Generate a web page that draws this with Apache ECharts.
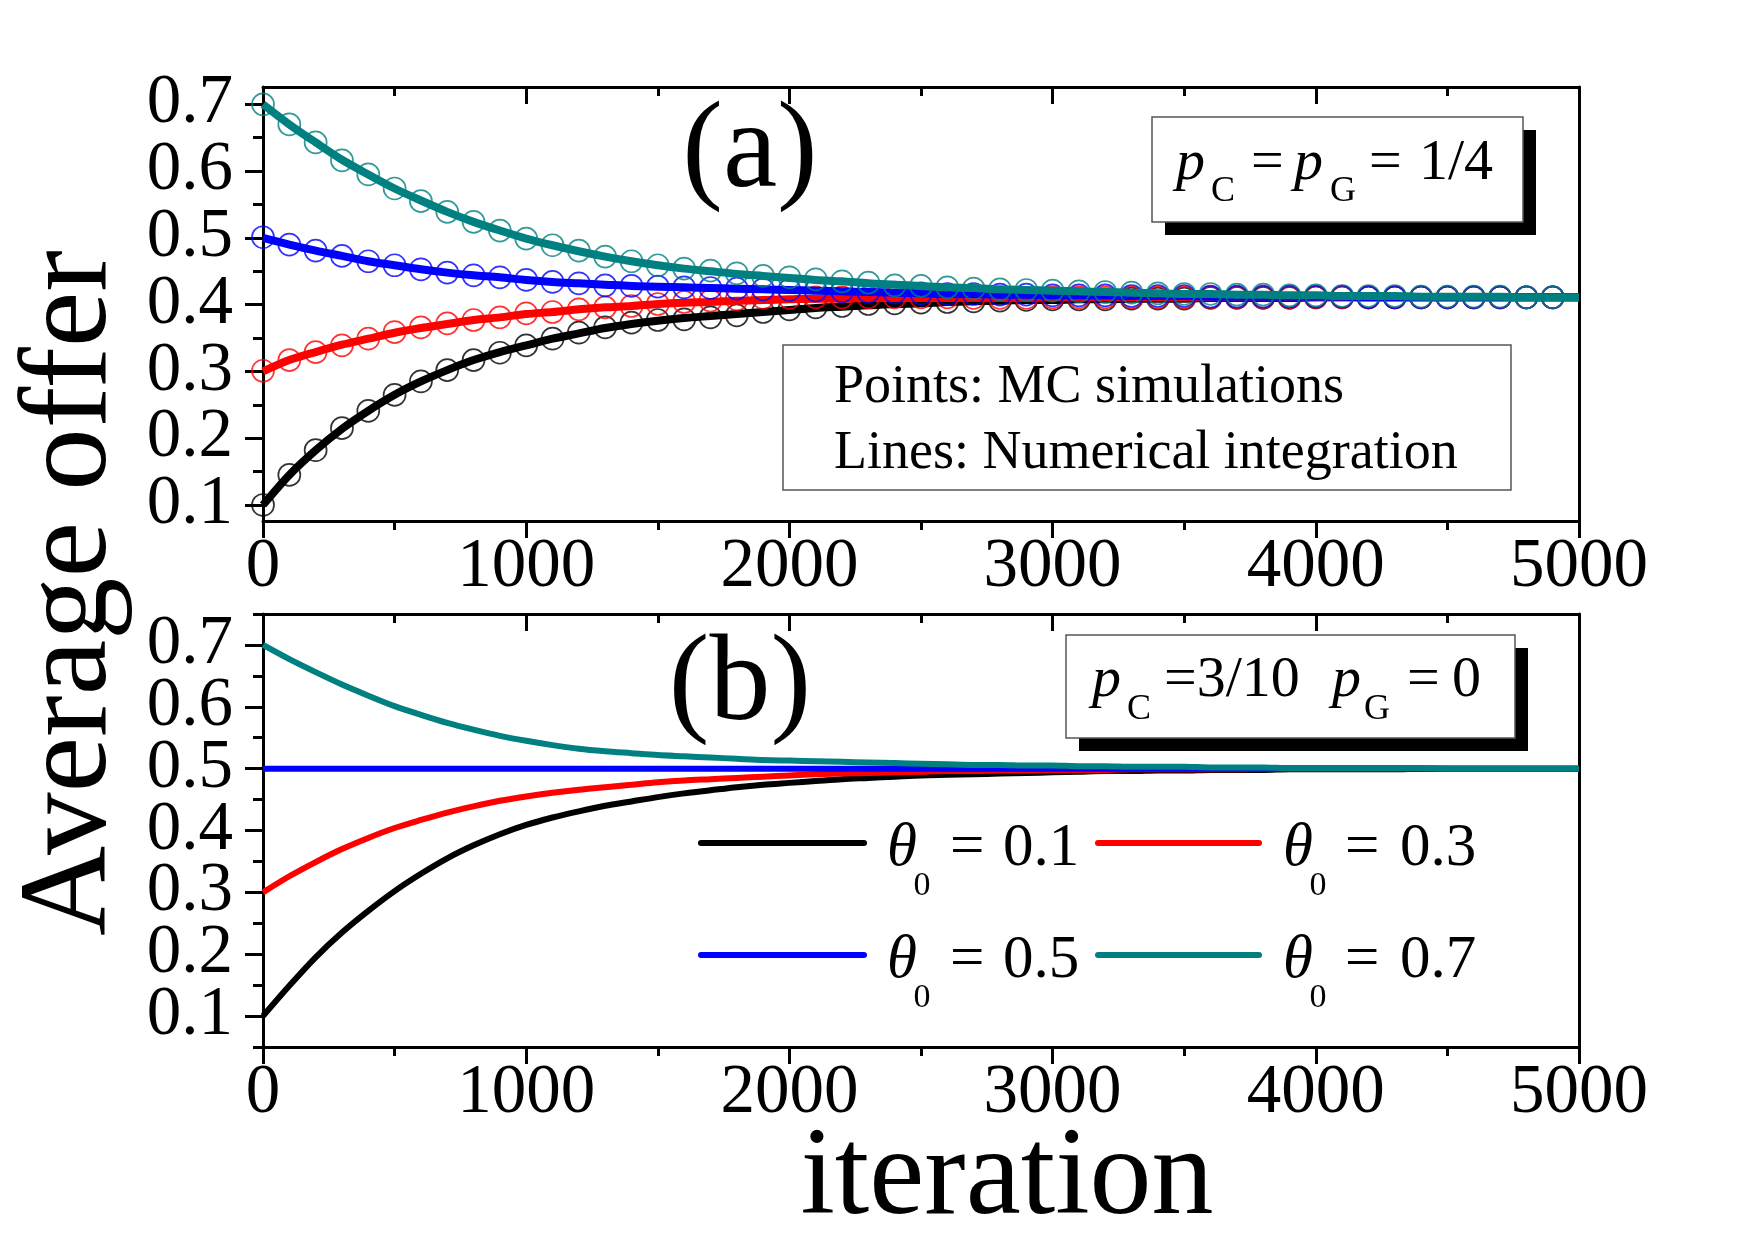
<!DOCTYPE html>
<html>
<head>
<meta charset="utf-8">
<script src="https://cdn.jsdelivr.net/npm/echarts@6.0.0/dist/echarts.min.js"></script>
<style>
html, body { margin: 0; background: #fff; }
#chart { width: 1755px; height: 1240px; }
</style>
</head>
<body>
<div id="chart"></div>
<script>
const serif = 'Liberation Serif'

// iteration steps used by the curves (0..5000) and by the MC points (0..4900)
const iterations = [0, 100, 200, 300, 400, 500, 600, 700, 800, 900, 1000,
    1100, 1200, 1300, 1400, 1500, 1600, 1700, 1800, 1900, 2000,
    2100, 2200, 2300, 2400, 2500, 2600, 2700, 2800, 2900, 3000,
    3100, 3200, 3300, 3400, 3500, 3600, 3700, 3800, 3900, 4000,
    4100, 4200, 4300, 4400, 4500, 4600, 4700, 4800, 4900, 5000]
const mcIterations = iterations.slice(0, 50)

// y tick labels, split over two axes so neighbours never collide
const yLabelsOdd = [0.1, 0.3, 0.5, 0.7]
const yLabelsEven = [0.2, 0.4, 0.6]
const yTicks = [0.1, 0.2, 0.3, 0.4, 0.5, 0.6, 0.7]
const yMinorA = [0.1, 0.15, 0.2, 0.25, 0.3, 0.35, 0.4, 0.45, 0.5, 0.55, 0.6, 0.65, 0.7]
const yMinorB = [0.05, 0.1, 0.15, 0.2, 0.25, 0.3, 0.35, 0.4, 0.45, 0.5, 0.55, 0.6, 0.65, 0.7, 0.75]

// (a) numerical integration, pC = pG = 1/4
const lineA01 = [0.100, 0.145, 0.182, 0.214, 0.241, 0.265, 0.285, 0.302, 0.317, 0.329, 0.339,
    0.349, 0.357, 0.365, 0.371, 0.376, 0.380, 0.383, 0.386, 0.389, 0.392,
    0.395, 0.397, 0.399, 0.401, 0.402, 0.404, 0.405, 0.406, 0.407, 0.407,
    0.408, 0.408, 0.409, 0.409, 0.409, 0.410, 0.410, 0.410, 0.410, 0.411,
    0.411, 0.411, 0.411, 0.411, 0.411, 0.411, 0.411, 0.411, 0.411, 0.411]
const lineA03 = [0.300, 0.317, 0.329, 0.340, 0.349, 0.358, 0.365, 0.371, 0.377, 0.381, 0.386,
    0.389, 0.393, 0.396, 0.398, 0.401, 0.403, 0.404, 0.406, 0.407, 0.408,
    0.409, 0.409, 0.410, 0.410, 0.410, 0.410, 0.410, 0.410, 0.410, 0.411,
    0.411, 0.411, 0.411, 0.411, 0.411, 0.411, 0.411, 0.411, 0.411, 0.411,
    0.411, 0.411, 0.411, 0.411, 0.411, 0.411, 0.411, 0.411, 0.411, 0.411]
const lineA05 = [0.500, 0.490, 0.481, 0.473, 0.465, 0.459, 0.453, 0.448, 0.444, 0.441, 0.437,
    0.434, 0.432, 0.430, 0.428, 0.427, 0.426, 0.425, 0.424, 0.423, 0.422,
    0.421, 0.420, 0.419, 0.418, 0.417, 0.416, 0.416, 0.415, 0.415, 0.414,
    0.414, 0.414, 0.413, 0.413, 0.413, 0.412, 0.412, 0.412, 0.412, 0.412,
    0.412, 0.411, 0.411, 0.411, 0.411, 0.411, 0.411, 0.411, 0.411, 0.411]
const lineA07 = [0.700, 0.670, 0.643, 0.617, 0.595, 0.574, 0.556, 0.539, 0.524, 0.511, 0.499,
    0.489, 0.480, 0.472, 0.465, 0.459, 0.454, 0.450, 0.446, 0.443, 0.440,
    0.437, 0.435, 0.432, 0.430, 0.428, 0.426, 0.425, 0.423, 0.422, 0.421,
    0.420, 0.419, 0.418, 0.417, 0.416, 0.416, 0.415, 0.415, 0.414, 0.414,
    0.413, 0.413, 0.413, 0.412, 0.412, 0.412, 0.412, 0.411, 0.411, 0.411]

// (a) MC simulations
const mcA01 = [0.100, 0.145, 0.182, 0.215, 0.241, 0.265, 0.285, 0.302, 0.317, 0.328, 0.339,
    0.349, 0.358, 0.366, 0.373, 0.377, 0.378, 0.381, 0.384, 0.389, 0.393,
    0.396, 0.398, 0.401, 0.402, 0.403, 0.404, 0.405, 0.406, 0.407, 0.408,
    0.408, 0.408, 0.409, 0.409, 0.409, 0.410, 0.410, 0.410, 0.410, 0.411,
    0.411, 0.411, 0.411, 0.411, 0.411, 0.411, 0.411, 0.411, 0.411]
const mcA03 = [0.301, 0.317, 0.329, 0.339, 0.349, 0.359, 0.366, 0.372, 0.377, 0.381, 0.387,
    0.389, 0.393, 0.396, 0.398, 0.401, 0.404, 0.406, 0.408, 0.410, 0.410,
    0.411, 0.411, 0.411, 0.411, 0.411, 0.411, 0.410, 0.410, 0.410, 0.411,
    0.411, 0.411, 0.411, 0.411, 0.411, 0.411, 0.411, 0.411, 0.411, 0.411,
    0.411, 0.411, 0.411, 0.411, 0.411, 0.411, 0.411, 0.411, 0.411]
const mcA05 = [0.501, 0.490, 0.481, 0.473, 0.465, 0.459, 0.453, 0.448, 0.444, 0.441, 0.437,
    0.434, 0.432, 0.429, 0.428, 0.427, 0.426, 0.425, 0.424, 0.423, 0.422,
    0.421, 0.420, 0.419, 0.418, 0.417, 0.416, 0.416, 0.415, 0.415, 0.414,
    0.414, 0.414, 0.413, 0.413, 0.413, 0.412, 0.412, 0.412, 0.412, 0.412,
    0.412, 0.411, 0.411, 0.411, 0.411, 0.411, 0.411, 0.411, 0.411]
const mcA07 = [0.700, 0.670, 0.643, 0.616, 0.595, 0.574, 0.555, 0.539, 0.524, 0.511, 0.499,
    0.489, 0.481, 0.472, 0.465, 0.459, 0.454, 0.451, 0.447, 0.443, 0.441,
    0.438, 0.435, 0.433, 0.429, 0.428, 0.426, 0.424, 0.423, 0.422, 0.421,
    0.420, 0.419, 0.418, 0.417, 0.416, 0.416, 0.415, 0.415, 0.414, 0.414,
    0.413, 0.413, 0.413, 0.412, 0.412, 0.412, 0.412, 0.411, 0.411]

// (b) pC = 3/10, pG = 0
const lineB01 = [0.100, 0.149, 0.195, 0.235, 0.270, 0.302, 0.330, 0.355, 0.376, 0.394, 0.409,
    0.421, 0.431, 0.440, 0.447, 0.454, 0.460, 0.465, 0.470, 0.474, 0.477,
    0.480, 0.483, 0.485, 0.487, 0.489, 0.490, 0.491, 0.492, 0.493, 0.494,
    0.495, 0.496, 0.496, 0.497, 0.497, 0.498, 0.498, 0.498, 0.499, 0.499,
    0.499, 0.499, 0.499, 0.500, 0.500, 0.500, 0.500, 0.500, 0.500, 0.500]
const lineB03 = [0.300, 0.326, 0.349, 0.370, 0.388, 0.404, 0.417, 0.429, 0.439, 0.448, 0.455,
    0.461, 0.466, 0.470, 0.474, 0.478, 0.481, 0.483, 0.485, 0.487, 0.489,
    0.491, 0.492, 0.493, 0.494, 0.495, 0.496, 0.496, 0.497, 0.497, 0.498,
    0.498, 0.498, 0.499, 0.499, 0.499, 0.499, 0.499, 0.500, 0.500, 0.500,
    0.500, 0.500, 0.500, 0.500, 0.500, 0.500, 0.500, 0.500, 0.500, 0.500]
const lineB05 = [0.5, 0.5, 0.5, 0.5, 0.5, 0.5, 0.5, 0.5, 0.5, 0.5, 0.5,
    0.5, 0.5, 0.5, 0.5, 0.5, 0.5, 0.5, 0.5, 0.5, 0.5,
    0.5, 0.5, 0.5, 0.5, 0.5, 0.5, 0.5, 0.5, 0.5, 0.5,
    0.5, 0.5, 0.5, 0.5, 0.5, 0.5, 0.5, 0.5, 0.5, 0.5,
    0.5, 0.5, 0.5, 0.5, 0.5, 0.5, 0.5, 0.5, 0.5, 0.5]
const lineB07 = [0.700, 0.677, 0.656, 0.636, 0.618, 0.601, 0.587, 0.574, 0.563, 0.553, 0.545,
    0.538, 0.532, 0.528, 0.525, 0.522, 0.520, 0.518, 0.516, 0.514, 0.513,
    0.512, 0.511, 0.510, 0.509, 0.508, 0.507, 0.506, 0.506, 0.505, 0.505,
    0.504, 0.504, 0.503, 0.503, 0.503, 0.502, 0.502, 0.502, 0.501, 0.501,
    0.501, 0.501, 0.501, 0.501, 0.500, 0.500, 0.500, 0.500, 0.500, 0.500]

const colors = ['#000000', '#ff0000', '#0000ff', '#008080']
const legendNames = ['0.1', '0.3', '0.5', '0.7']

function pairs(xs, ys) {
    return xs.map((x, i) => [x, ys[i]])
}

function xAxes(g) {
    const line = { show: true, onZero: false, lineStyle: { color: '#000', width: 3 } }
    const base = { type: 'value', gridIndex: g, min: 0, max: 5000, interval: 1000, axisLine: line, splitLine: { show: false } }
    return [
        Object.assign({}, base, {
            position: 'bottom',
            axisTick: { show: true, inside: false, length: 17, lineStyle: { color: '#000', width: 3 } },
            minorTick: { show: true, splitNumber: 2, length: 9, lineStyle: { color: '#000', width: 3 } },
            axisLabel: {
                fontFamily: serif, fontSize: 69, color: '#000', margin: 12,
                formatter: v => String(v), showMinLabel: true, showMaxLabel: true, hideOverlap: false
            }
        }),
        Object.assign({}, base, {
            position: 'top',
            axisTick: { show: true, inside: true, length: 17, lineStyle: { color: '#000', width: 3 } },
            minorTick: { show: true, splitNumber: 2, length: 9, lineStyle: { color: '#000', width: 3 } },
            axisLabel: { show: false }
        })
    ]
}

function yLabel(values) {
    return {
        customValues: values, formatter: v => v.toFixed(1), interval: 0,
        showMinLabel: true, showMaxLabel: true, hideOverlap: false,
        fontFamily: serif, fontSize: 69, color: '#000', margin: 30
    }
}

function yAxes(g, min, max, minors) {
    const tickStyle = { color: '#000', width: 3 }
    return [
        {
            type: 'value', gridIndex: g, position: 'left', min: min, max: max,
            axisLine: { show: true, onZero: false, lineStyle: { color: '#000', width: 3 } },
            axisTick: { show: true, inside: false, length: 18, customValues: yTicks, lineStyle: tickStyle },
            axisLabel: yLabel(yLabelsOdd),
            splitLine: { show: false }
        },
        {
            type: 'value', gridIndex: g, position: 'left', min: min, max: max,
            axisLine: { show: false },
            axisTick: { show: true, inside: false, length: 10, customValues: minors, lineStyle: tickStyle },
            axisLabel: yLabel(yLabelsEven),
            splitLine: { show: false }
        },
        {
            type: 'value', gridIndex: g, position: 'right', min: min, max: max,
            axisLine: { show: true, onZero: false, lineStyle: { color: '#000', width: 3 } },
            axisTick: { show: false },
            axisLabel: { show: false },
            splitLine: { show: false }
        }
    ]
}

function curve(g, vals, color, width, z) {
    return {
        type: 'line', xAxisIndex: g * 2, yAxisIndex: g * 3,
        data: pairs(iterations, vals),
        showSymbol: false, symbol: 'none', smooth: 0.3,
        lineStyle: { color: color, width: width },
        itemStyle: { color: color },
        z: z, silent: true
    }
}

function points(vals, color, z) {
    return {
        type: 'scatter', xAxisIndex: 0, yAxisIndex: 0,
        data: pairs(mcIterations, vals),
        symbol: 'circle', symbolSize: 22,
        itemStyle: { color: 'rgba(0,0,0,0)', borderColor: color, borderWidth: 1.7 },
        z: z, silent: true
    }
}

// text placed by its baseline
function txt(s, x, base, size, extra) {
    return {
        type: 'text', z: 100,
        style: Object.assign({
            text: s, x: x, y: base - 0.305 * size,
            fontFamily: serif, fontSize: size, fill: '#000',
            align: 'left', verticalAlign: 'middle',
            textAlign: 'left', textVerticalAlign: 'middle'
        }, extra || {})
    }
}

function shadowBox(x, y, w, h, off) {
    return [
        { type: 'rect', z: 90, shape: { x: x + off, y: y + off, width: w, height: h }, style: { fill: '#000' } },
        { type: 'rect', z: 91, shape: { x: x, y: y, width: w, height: h }, style: { fill: '#fff', stroke: '#555', lineWidth: 1.5 } }
    ]
}

const it = { fontStyle: 'italic' }
const center = { align: 'center', textAlign: 'center' }

let graphics = []
graphics = graphics.concat(shadowBox(1152, 117, 371, 105, 13))
graphics.push(txt('p', 1176, 181, 58, it), txt('C', 1211, 203, 36), txt('=', 1251, 181, 58),
    txt('p', 1294, 181, 58, it), txt('G', 1330, 203, 36), txt('=', 1369, 181, 58), txt('1/4', 1419, 181, 58))

graphics = graphics.concat(shadowBox(1066, 635, 449, 103, 13))
graphics.push(txt('p', 1092, 698, 58, it), txt('C', 1127, 721, 36), txt('=3/10', 1164, 698, 58),
    txt('p', 1332, 698, 58, it), txt('G', 1364, 721, 36), txt('=', 1407, 698, 58), txt('0', 1452, 698, 58))

graphics.push({ type: 'rect', z: 91, shape: { x: 783, y: 345, width: 728, height: 145 }, style: { fill: '#fff', stroke: '#555', lineWidth: 1.5 } })
graphics.push(txt('Points: MC simulations', 834, 404, 54), txt('Lines: Numerical integration', 834, 470, 54))

graphics.push(txt('(a)', 750, 191, 122, center), txt('(b)', 740, 724, 122, center))
graphics.push(txt('iteration', 1007, 1218, 124, center))
graphics.push({
    type: 'text', z: 100, x: 72, y: 593, rotation: Math.PI / 2,
    style: {
        text: 'Average offer', x: 0, y: 0, fontFamily: serif, fontSize: 125, fill: '#000',
        align: 'center', verticalAlign: 'middle', textAlign: 'center', textVerticalAlign: 'middle'
    }
})

// legend of (b)
const legendSlots = [[701, 864, 887, 922, 950, 1003, 843], [1098, 1259, 1283, 1318, 1345, 1400, 843],
    [701, 864, 887, 922, 950, 1003, 955], [1098, 1259, 1283, 1318, 1345, 1400, 955]]
legendSlots.forEach((s, i) => {
    const y = s[6]
    graphics.push({
        type: 'line', z: 100,
        shape: { x1: s[0], y1: y, x2: s[1], y2: y },
        style: { stroke: colors[i], lineWidth: 6, lineCap: 'round' }
    })
    graphics.push(txt('θ', s[2], y + 25, 61, it))
    graphics.push(txt('0', s[3], y + 53, 34, center))
    graphics.push(txt('=', s[4], y + 25, 61))
    graphics.push(txt(legendNames[i], s[5], y + 25, 61))
})

const option = {
    animation: false,
    backgroundColor: '#fff',
    textStyle: { fontFamily: serif },
    grid: [
        { left: 263, top: 87, width: 1316, height: 434 },
        { left: 263, top: 614, width: 1316, height: 433 }
    ],
    xAxis: xAxes(0).concat(xAxes(1)),
    yAxis: yAxes(0, 0.076, 0.726, yMinorA).concat(yAxes(1, 0.05, 0.75, yMinorB)),
    series: [
        curve(0, lineA01, colors[0], 8, 2), points(mcA01, colors[0], 3),
        curve(0, lineA03, colors[1], 8, 4), points(mcA03, colors[1], 5),
        curve(0, lineA05, colors[2], 8, 6), points(mcA05, colors[2], 7),
        curve(0, lineA07, colors[3], 8, 8), points(mcA07, colors[3], 9),
        curve(1, lineB01, colors[0], 6, 2),
        curve(1, lineB03, colors[1], 6, 4),
        curve(1, lineB05, colors[2], 6, 6),
        curve(1, lineB07, colors[3], 6, 8)
    ],
    graphic: graphics
}

const chart = echarts.init(document.getElementById('chart'))
chart.setOption(option)
</script>
</body>
</html>
